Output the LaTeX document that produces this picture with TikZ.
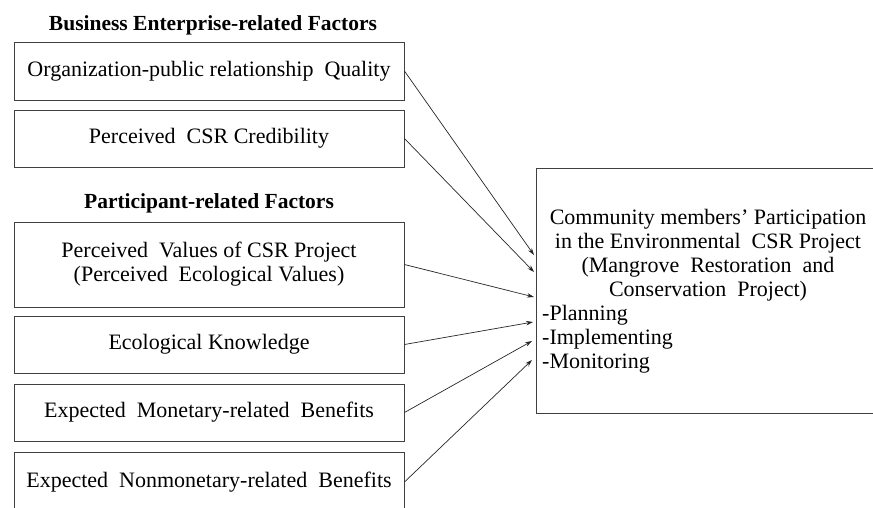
\documentclass[tikz,border=0pt]{standalone}
\usepackage{fontspec}
\setmainfont{Liberation Serif}
\usetikzlibrary{arrows.meta}
\tikzset{
  factor/.style={draw=black!75, line width=0.9pt, minimum width=390pt, font=\fontsize{22}{24}\selectfont, align=center, inner sep=0pt},
  heading/.style={font=\bfseries\fontsize{21.5}{24}\selectfont, inner sep=0pt},
  outbox/.style={draw=black!75, line width=0.9pt, minimum width=344pt, minimum height=245pt, inner sep=0pt},
  bodytext/.style={font=\fontsize{22}{24}\selectfont, inner sep=0pt},
  link/.style={draw=black!85, line width=0.7pt, -{Stealth[length=7pt,width=4.5pt]}}
}
\begin{document}
\begin{tikzpicture}[x=1pt,y=-1pt]
\useasboundingbox (0,0) rectangle (873,507);
\clip (0,0) rectangle (873,507);
\node[heading] (h1) at (213,25) {Business Enterprise-related Factors};
\node[heading] (h2) at (209,203) {Participant-related Factors};
\node[factor, minimum height=58pt] (f1) at (209,71) {Organization-public relationship~ Quality};
\node[factor, minimum height=57pt] (f2) at (209,138.5) {Perceived~ CSR Credibility};
\node[factor, minimum height=85pt] (f3) at (209,264.5) {Perceived~ Values of CSR Project\\(Perceived~ Ecological Values)};
\node[factor, minimum height=57pt] (f4) at (209,344.5) {Ecological Knowledge};
\node[factor, minimum height=57pt] (f5) at (209,412.5) {Expected~ Monetary-related~ Benefits};
\node[factor, minimum height=60pt] (f6) at (209,482) {Expected~ Nonmonetary-related~ Benefits};
\node[outbox] (out) at (708,290.5) {};
\node[bodytext, align=center] (outtitle) at (708,255) {Community members' Participation\\in the Environmental~ CSR Project\\(Mangrove~ Restoration~ and\\Conservation~ Project)};
\node[bodytext, align=left, anchor=west] (outlist) at (542,339) {-Planning\\-Implementing\\-Monitoring};
\coordinate (t1) at (534,255);
\coordinate (t2) at (534,272);
\coordinate (t3) at (534,297);
\coordinate (t4) at (533,322);
\coordinate (t5) at (532,341);
\coordinate (t6) at (532,360);
\draw[link] (f1.east) -- (t1);
\draw[link] (f2.east) -- (t2);
\draw[link] (f3.east) -- (t3);
\draw[link] (f4.east) -- (t4);
\draw[link] (f5.east) -- (t5);
\draw[link] (f6.east) -- (t6);
\end{tikzpicture}
\end{document}
